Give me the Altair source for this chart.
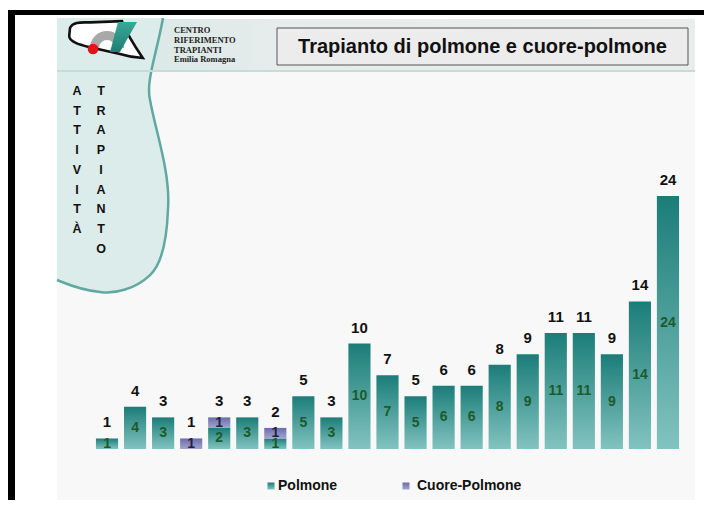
import altair as alt
import pandas as pd

# ---------------- data ----------------
years = ["2004", "2005", "2006", "2007", "2008", "2009", "2010", "2011", "2012", "2013",
         "2014", "2015", "2016", "2017", "2018", "2019", "2020", "2021", "2022", "2023", "2024"]
polmone = [1, 4, 3, 0, 2, 3, 1, 5, 3, 10, 7, 5, 6, 6, 8, 9, 11, 11, 9, 14, 24]
cuore_polmone = [0, 0, 0, 1, 1, 0, 1, 0, 0, 0, 0, 0, 0, 0, 0, 0, 0, 0, 0, 0, 0]

legend_labels = ["Polmone", "Cuore-Polmone"]
title_text = "Trapianto di polmone e cuore-polmone"
org_lines = "CENTRO\nRIFERIMENTO\nTRAPIANTI\nEmilia Romagna"
side_col1 = "A\nT\nT\nI\nV\nI\nT\nÀ"
side_col2 = "T\nR\nA\nP\nI\nA\nN\nT\nO"

df = pd.DataFrame({"year": years, "pol": polmone, "cuo": cuore_polmone})
df["tot"] = df["pol"] + df["cuo"]
df["pol_mid"] = df["pol"] / 2
df["cuo_lo"] = df["pol"]
df["cuo_hi"] = df["tot"]
df["cuo_mid"] = df["pol"] + df["cuo"] / 2

W, H = 696, 441
FONT = "Liberation Sans"
TEAL_DARK, TEAL_LIGHT = "#1b7d78", "#82c3c0"
PURP_DARK, PURP_LIGHT = "#6c6caa", "#a3a3cf"

xscale = alt.Scale(domain=years, range=[85, 674], paddingInner=0.21, paddingOuter=0.105)
yscale = alt.Scale(domain=[0, 41.84], nice=False, zero=True)
xaxis = alt.Axis(title=None, labelAngle=0, labelFont=FONT, labelFontWeight="bold",
                 labelFontSize=10, labelColor="#2d4d2d", domainColor="#9a9a9a",
                 tickColor="#9a9a9a", tickSize=3, tickBand="extent", labelPadding=5,
                 grid=False)

def vgrad(c_top, c_bot):
    return alt.Gradient(gradient="linear",
                        stops=[alt.GradientStop(color=c_top, offset=0),
                               alt.GradientStop(color=c_bot, offset=1)],
                        x1=0, x2=0, y1=0, y2=1)

one = pd.DataFrame({"k": [0]})
dec = alt.Chart(one)

def rect(x, x2, y, y2, **kw):
    return dec.mark_rect(**kw).encode(x=alt.value(x), x2=alt.value(x2),
                                      y=alt.value(y), y2=alt.value(y2))

# ---------------- decorations ----------------
frame_top = rect(0, 696, 2, 7, color="#000000")
frame_left = rect(0, 7, 2, 492, color="#000000")
panel = rect(49, 687, 11, 492, color="#f8f8f8")
header = rect(49, 687, 11, 62,
              fill=alt.Gradient(gradient="linear",
                                stops=[alt.GradientStop(color="#d4e7e4", offset=0),
                                       alt.GradientStop(color="#e6eceb", offset=0.35),
                                       alt.GradientStop(color="#ebeded", offset=1)],
                                x1=0, x2=1, y1=0, y2=0))

blob_path = ("M-0.408,-1 L0.344,-1 C0.30,-0.75 0.22,-0.55 0.252,-0.418 "
             "C0.29,-0.2 0.40,0.1 0.379,0.362 C0.37,0.6 0.33,0.75 0.252,0.823 "
             "C0.15,0.92 0.0,0.96 -0.103,0.943 C-0.25,0.93 -0.35,0.88 -0.408,0.858 Z")
blob_edge = ("M0.344,-1 C0.30,-0.75 0.22,-0.55 0.252,-0.418 "
             "C0.29,-0.2 0.40,0.1 0.379,0.362 C0.37,0.6 0.33,0.75 0.252,0.823 "
             "C0.15,0.92 0.0,0.96 -0.103,0.943 C-0.25,0.93 -0.35,0.88 -0.408,0.858")
blob = dec.mark_point(shape=blob_path, size=79524, filled=True, color="#dbecea",
                      opacity=1, strokeWidth=0).encode(x=alt.value(106.5), y=alt.value(151))
blob_line = dec.mark_point(shape=blob_edge, size=79524, filled=False, color="#5fa9a2",
                           opacity=1, strokeWidth=2.5).encode(x=alt.value(106.5), y=alt.value(151))
header_line = rect(49, 687, 62, 64, color="#c6dcd9")

col1 = dec.mark_text(text=side_col1, lineBreak="\n", lineHeight=19.7, font=FONT,
                     fontWeight="bold", fontSize=12.5, color="#111111", baseline="top",
                     align="center").encode(x=alt.value(69), y=alt.value(77))
col2 = dec.mark_text(text=side_col2, lineBreak="\n", lineHeight=19.7, font=FONT,
                     fontWeight="bold", fontSize=12.5, color="#111111", baseline="top",
                     align="center").encode(x=alt.value(93), y=alt.value(77))

# logo
logo_path = ("M-0.8,-0.3 C-0.72,-0.47 -0.5,-0.44 -0.3,-0.44 L0.5,-0.47 "
             "C0.6,-0.2 0.85,0.2 1.02,0.45 C0.8,0.44 0.6,0.4 0.425,0.345 "
             "L-0.275,0.19 C-0.5,0.13 -0.82,0.06 -0.82,-0.1 Z")
logo_outline = dec.mark_point(shape=logo_path, size=6400, filled=True, fill="#ffffff",
                              stroke="#111111", strokeWidth=2.6, opacity=1).encode(
    x=alt.value(94), y=alt.value(32))
logo_arc = dec.mark_arc(color="#a8a8a8", theta=4.712, theta2=7.854, radius=17,
                        radius2=8).encode(x=alt.value(99), y=alt.value(40))
para_path = "M-0.31,-0.94 L0.875,-0.94 L-0.19,0.94 L-0.81,0.94 Z"
logo_para = dec.mark_point(shape=para_path, size=1024, filled=True, opacity=1,
                           fill=alt.Gradient(gradient="linear",
                                             stops=[alt.GradientStop(color="#3aa898", offset=0),
                                                    alt.GradientStop(color="#1d7f72", offset=1)],
                                             x1=0, x2=0, y1=0, y2=1),
                           strokeWidth=0).encode(x=alt.value(115), y=alt.value(29))
logo_dot = dec.mark_point(shape="circle", size=113, filled=True, color="#e8101a",
                          opacity=1).encode(x=alt.value(85), y=alt.value(41))
org_text = dec.mark_text(text=org_lines, lineBreak="\n", lineHeight=9.8,
                         font="Liberation Serif", fontWeight="bold", fontSize=8.5,
                         color="#222222", align="left", baseline="top").encode(
    x=alt.value(166), y=alt.value(18))

title_box = rect(269, 680, 20, 57, fill="#ececec", stroke="#555555", strokeWidth=1)
title = dec.mark_text(text=title_text, font=FONT, fontWeight="bold", fontSize=20,
                      color="#111111", align="center", baseline="middle").encode(
    x=alt.value(474.5), y=alt.value(39))

# ---------------- bars & labels ----------------
base = alt.Chart(df)
X = alt.X("year:N", scale=xscale, axis=xaxis, sort=years)

pol_bars = base.transform_filter("datum.pol > 0").mark_bar(
    fill=vgrad(TEAL_DARK, TEAL_LIGHT)).encode(
    x=X, y=alt.Y("pol:Q", scale=yscale, axis=None, stack=None))
cuo_bars = base.transform_filter("datum.cuo > 0").mark_bar(
    fill=vgrad(PURP_DARK, PURP_LIGHT)).encode(
    x=X, y=alt.Y("cuo_lo:Q", scale=yscale, axis=None), y2="cuo_hi:Q")

tot_text = base.mark_text(font=FONT, fontWeight="bold", fontSize=15, color="#111111",
                          baseline="middle", dy=-16).encode(
    x=X, y=alt.Y("tot:Q", scale=yscale, axis=None), text="tot:Q")
pol_text = base.transform_filter("datum.pol > 0").mark_text(
    font=FONT, fontWeight="bold", fontSize=14, color="#1d5a2a", baseline="middle").encode(
    x=X, y=alt.Y("pol_mid:Q", scale=yscale, axis=None), text="pol:Q")
cuo_text = base.transform_filter("datum.cuo > 0").mark_text(
    font=FONT, fontWeight="bold", fontSize=14, color="#1e2440", baseline="middle").encode(
    x=X, y=alt.Y("cuo_mid:Q", scale=yscale, axis=None), text="cuo:Q")

# ---------------- legend ----------------
leg1_sym = dec.mark_point(shape="square", size=49, filled=True, opacity=1,
                          fill=vgrad(TEAL_DARK, TEAL_LIGHT)).encode(
    x=alt.value(263), y=alt.value(478))
leg1_txt = dec.mark_text(text=legend_labels[0], font=FONT, fontWeight="bold", fontSize=14,
                         color="#111111", align="left", baseline="middle").encode(
    x=alt.value(270), y=alt.value(478))
leg2_sym = dec.mark_point(shape="square", size=49, filled=True, opacity=1,
                          fill=vgrad(PURP_DARK, PURP_LIGHT)).encode(
    x=alt.value(398), y=alt.value(478))
leg2_txt = dec.mark_text(text=legend_labels[1], font=FONT, fontWeight="bold", fontSize=14,
                         color="#111111", align="left", baseline="middle").encode(
    x=alt.value(409), y=alt.value(478))

chart = alt.layer(
    frame_top, frame_left, panel, header, blob, blob_line, header_line, col1, col2,
    logo_outline, logo_arc, logo_para, logo_dot, org_text, title_box, title,
    pol_bars, cuo_bars, tot_text, pol_text, cuo_text,
    leg1_sym, leg1_txt, leg2_sym, leg2_txt,
).properties(
    width=W, height=H,
    padding={"left": 0, "top": 0, "right": 0, "bottom": 51},
    autosize=alt.AutoSizeParams(type="none"),
    background="#ffffff",
).configure_view(strokeWidth=0)

chart.save("out.html", embed_options={"renderer": "svg", "actions": False})
